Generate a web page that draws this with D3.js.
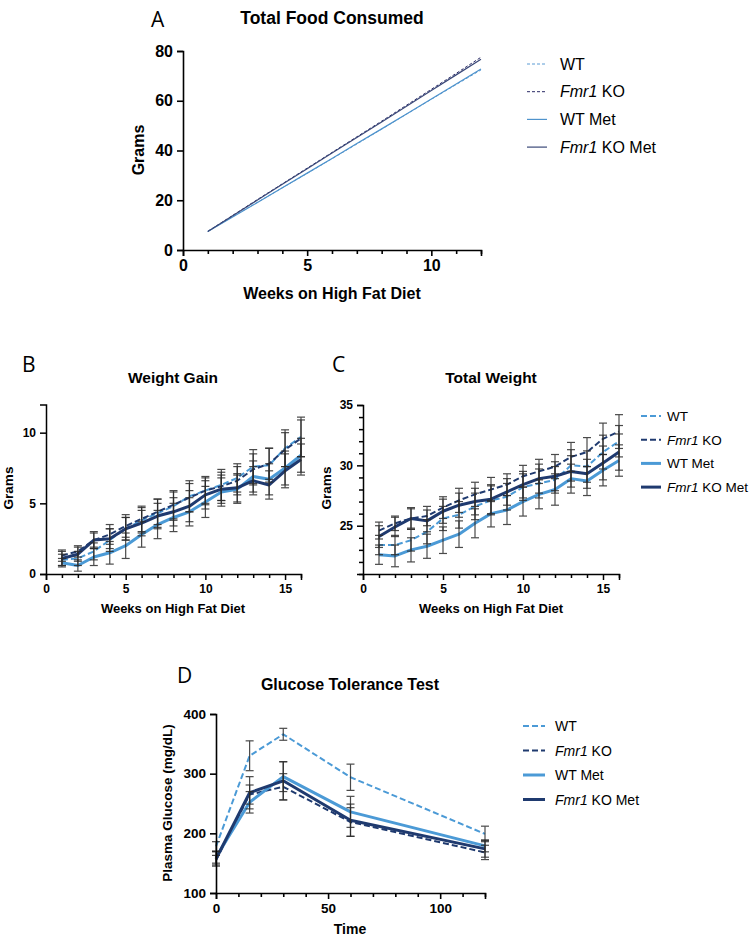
<!DOCTYPE html>
<html>
<head>
<meta charset="utf-8">
<script src="https://cdn.jsdelivr.net/npm/d3@7"></script>
<style>
  body { margin:0; background:#fff; }
  svg text { font-family: "Liberation Sans", Arial, sans-serif; fill:#000; }
</style>
</head>
<body>
<svg id="fig" width="750" height="937"></svg>
<script>
// ---- data ----
const seriesNames = ['WT', 'Fmr1 KO', 'WT Met', 'Fmr1 KO Met'];

// A: cumulative food (g), weeks 1-12
const weeksA = [1,2,3,4,5,6,7,8,9,10,11,12];
const foodWT    = [7.5, 13.4, 19.2, 25.0, 30.8, 36.7, 42.6, 48.6, 54.6, 60.6, 66.5, 72.4];
const foodKO    = [7.5, 13.9, 20.3, 26.6, 32.9, 39.2, 45.5, 51.8, 58.2, 64.6, 71.0, 77.5];
const foodWTMet = [7.4, 13.3, 19.1, 25.0, 30.9, 36.8, 42.8, 48.7, 54.7, 60.7, 66.7, 72.8];
const foodKOMet = [7.4, 13.8, 20.1, 26.4, 32.7, 39.0, 45.2, 51.5, 57.8, 64.1, 70.4, 76.7];

// B: weight gain (g), weeks 1-16
const weeksB = [1,2,3,4,5,6,7,8,9,10,11,12,13,14,15,16];
const gainWT      = [1.0, 1.1, 1.6, 2.4, 3.2, 3.8, 4.3, 4.8, 5.5, 5.9, 6.3, 6.8, 7.6, 7.7, 8.9, 9.7];
const gainKO      = [1.3, 1.6, 2.4, 2.8, 3.4, 3.9, 4.4, 4.9, 5.4, 5.9, 6.2, 6.6, 7.4, 7.8, 8.8, 9.6];
const gainWTMet   = [0.8, 0.6, 1.2, 1.5, 2.0, 2.8, 3.5, 4.0, 4.4, 5.1, 5.8, 6.0, 6.9, 6.7, 7.5, 8.4];
const gainKOMet   = [1.1, 1.4, 2.4, 2.5, 3.2, 3.6, 4.1, 4.4, 4.8, 5.6, 6.0, 6.1, 6.6, 6.3, 7.3, 8.1];
const gainWTErr   = [0.4, 0.5, 0.6, 0.8, 0.8, 0.9, 1.0, 1.0, 1.1, 1.0, 1.1, 1.0, 1.2, 1.2, 1.3, 1.4];
const gainKOErr   = [0.4, 0.4, 0.5, 0.7, 0.8, 0.9, 0.9, 1.0, 1.0, 0.9, 1.0, 1.0, 1.1, 1.1, 1.2, 1.3];
const gainWTMetErr= [0.3, 0.4, 0.6, 0.8, 0.9, 0.9, 1.0, 1.0, 1.0, 1.1, 1.0, 1.0, 1.1, 1.1, 1.2, 1.2];
const gainKOMetErr= [0.5, 0.5, 0.6, 0.7, 0.8, 0.9, 0.9, 1.0, 1.1, 1.0, 1.0, 1.0, 1.0, 1.0, 1.2, 1.1];

// C: total weight (g), weeks 1-16
const weightWT    = [23.4, 23.4, 23.8, 24.5, 25.6, 25.9, 26.6, 27.1, 27.4, 28.2, 28.5, 28.8, 30.0, 29.9, 31.1, 32.0];
const weightKO    = [24.6, 25.2, 25.6, 25.8, 26.5, 27.1, 27.6, 28.0, 28.4, 29.1, 29.5, 29.9, 30.7, 31.1, 32.2, 32.8];
const weightWTMet = [22.6, 22.5, 23.0, 23.3, 23.8, 24.3, 25.2, 26.0, 26.3, 27.0, 27.6, 28.0, 28.9, 28.7, 29.6, 30.4];
const weightKOMet = [24.1, 24.9, 25.6, 25.4, 26.2, 26.7, 27.0, 27.2, 27.8, 28.4, 28.9, 29.1, 29.5, 29.3, 30.2, 31.1];
const weightWTErr    = [0.8, 0.8, 0.9, 1.0, 1.0, 1.1, 1.1, 1.2, 1.1, 1.1, 1.2, 1.1, 1.3, 1.3, 1.4, 1.3];
const weightKOErr    = [0.7, 0.6, 0.8, 0.8, 0.9, 1.0, 1.0, 1.0, 0.9, 0.9, 1.0, 1.0, 1.2, 1.2, 1.3, 1.4];
const weightWTMetErr = [0.8, 0.9, 1.0, 1.0, 1.1, 1.1, 1.2, 1.1, 1.2, 1.2, 1.2, 1.3, 1.2, 1.2, 1.3, 1.3];
const weightKOMetErr = [0.9, 0.8, 0.9, 0.9, 1.0, 1.0, 1.1, 1.2, 1.1, 1.1, 1.2, 1.2, 1.3, 1.2, 1.4, 1.5];

// D: glucose tolerance (mg/dL)
const timesD = [0, 15, 30, 60, 120];
const gttWT      = [178, 330, 366, 294, 199];
const gttKO      = [155, 265, 278, 219, 168];
const gttWTMet   = [160, 252, 295, 236, 179];
const gttKOMet   = [157, 268, 288, 222, 174];
const gttWTErr   = [8, 25, 10, 22, 13];
const gttKOErr   = [8, 16, 22, 24, 12];
const gttWTMetErr= [10, 18, 25, 26, 10];
const gttKOMetErr= [12, 27, 32, 27, 14];

// ---- styles ----
const light = '#4b9ad6', dark = '#1f3a6f';
const styleThin = [
  {color:'#5a9bd4', dash:'3,2', w:1},
  {color:'#2a2a66', dash:'3,2', w:1},
  {color:'#4f93cc', dash:null, w:1.2},
  {color:'#3a4878', dash:null, w:1.2}
];
const styleBold = [
  {color:light, dash:'6,3', w:2},
  {color:dark,  dash:'6,3', w:2},
  {color:light, dash:null,  w:3},
  {color:dark,  dash:null,  w:3}
];

const svg = d3.select('#fig');

function drawAxes(g, x, y, o){
  const fs = o.tickFont;
  g.append('g').attr('transform',`translate(0,${y.range()[0]})`)
    .call(d3.axisBottom(x).tickValues(o.xMajor).tickSize(6).tickPadding(4).tickFormat(d3.format('d')));
  const xm = g.append('g').attr('transform',`translate(0,${y.range()[0]})`)
    .call(d3.axisBottom(x).tickValues(o.xMinor).tickSize(4).tickFormat(''));
  xm.select('.domain').remove();
  g.append('g').attr('transform',`translate(${x.range()[0]},0)`)
    .call(d3.axisLeft(y).tickValues(o.yMajor).tickSize(6).tickPadding(4).tickFormat(d3.format('d')));
  if (o.yMinor){
    const ym = g.append('g').attr('transform',`translate(${x.range()[0]},0)`)
      .call(d3.axisLeft(y).tickValues(o.yMinor).tickSize(4).tickFormat(''));
    ym.select('.domain').remove();
  }
  g.selectAll('.domain').attr('stroke','#000').attr('stroke-width',o.axisW);
  g.selectAll('.tick line').attr('stroke','#000').attr('stroke-width',o.axisW);
  g.selectAll('.tick text').attr('font-size',fs).attr('font-weight','bold')
    .attr('font-family','"Liberation Sans", Arial, sans-serif').attr('fill','#000');
}

function drawSeries(g, x, y, xs, sets, styles, errs){
  const line = d3.line().x((d,i)=>x(xs[i])).y(d=>y(d));
  sets.forEach((vals,k)=>{
    const s = styles[k];
    g.append('path').datum(vals).attr('d',line).attr('fill','none')
      .attr('stroke',s.color).attr('stroke-width',s.w)
      .attr('stroke-dasharray',s.dash).attr('stroke-linejoin','round');
  });
  if (!errs) return;
  errs.forEach((e,k)=>{
    const vals = sets[k];
    const eg = g.append('g').attr('stroke','#2b2b2b').attr('stroke-width',1.2).attr('opacity',0.85);
    vals.forEach((v,i)=>{
      const cx = x(xs[i]);
      eg.append('line').attr('x1',cx).attr('x2',cx).attr('y1',y(v-e[i])).attr('y2',y(v+e[i]));
      eg.append('line').attr('x1',cx-4).attr('x2',cx+4).attr('y1',y(v+e[i])).attr('y2',y(v+e[i]));
      eg.append('line').attr('x1',cx-4).attr('x2',cx+4).attr('y1',y(v-e[i])).attr('y2',y(v-e[i]));
    });
  });
}

function legend(x0, y0, dy, len, gap, styles, fs){
  seriesNames.forEach((name,k)=>{
    const s = styles[k];
    const yy = y0 + k*dy;
    svg.append('line').attr('x1',x0).attr('x2',x0+len).attr('y1',yy).attr('y2',yy)
      .attr('stroke',s.color).attr('stroke-width',s.w).attr('stroke-dasharray',s.dash);
    const t = svg.append('text').attr('x',x0+len+gap).attr('y',yy).attr('dy','0.36em').attr('font-size',fs);
    if (name.startsWith('Fmr1')){
      t.append('tspan').attr('font-style','italic').text('Fmr1');
      t.append('tspan').text(name.slice(4));
    } else t.text(name);
  });
}

function letter(txt, x, y, fs){
  svg.append('text').attr('x',x).attr('y',y).attr('font-size',fs)
    .style('font-family','"Open Sans", "DejaVu Sans", sans-serif').attr('font-weight',400).text(txt);
}
function label(txt, x, y, fs, rot){
  const t = svg.append('text').attr('x',x).attr('y',y).attr('font-size',fs)
    .attr('font-weight','bold').attr('text-anchor','middle').text(txt);
  if (rot) t.attr('transform',`rotate(-90,${x},${y})`);
  return t;
}

// ---- Panel A ----
{
  const x = d3.scaleLinear().domain([0,12]).range([183,481]);
  const y = d3.scaleLinear().domain([0,80]).range([250,51]);
  const g = svg.append('g');
  drawSeries(g, x, y, weeksA, [foodWT, foodKO, foodWTMet, foodKOMet], styleThin);
  drawAxes(g, x, y, {xMajor:[0,5,10], xMinor:[1,2,3,4,6,7,8,9,11,12], yMajor:[0,20,40,60,80], tickFont:16, axisW:1.6});
  letter('A', 151, 27, 21);
  label('Total Food Consumed', 332, 24, 17.5);
  label('Grams', 144, 150, 16, true);
  label('Weeks on High Fat Diet', 332, 299, 16);
  legend(527, 64, 27.7, 20, 13, styleThin, 16);
}

// ---- Panel B ----
{
  const x = d3.scaleLinear().domain([0,16]).range([46,301]);
  const y = d3.scaleLinear().domain([0,12]).range([574,404.4]);
  const g = svg.append('g');
  drawSeries(g, x, y, weeksB, [gainWT, gainKO, gainWTMet, gainKOMet], styleBold,
    [gainWTErr, gainKOErr, gainWTMetErr, gainKOMetErr]);
  drawAxes(g, x, y, {xMajor:[0,5,10,15], xMinor:[1,2,3,4,6,7,8,9,11,12,13,14,16], yMajor:[0,5,10], tickFont:12, axisW:1.5});
  letter('B', 22, 372, 21);
  label('Weight Gain', 173, 383, 15.5);
  label('Grams', 13, 488, 13.5, true);
  label('Weeks on High Fat Diet', 173, 613, 13);
}

// ---- Panel C ----
{
  const x = d3.scaleLinear().domain([0,16]).range([363,619]);
  const y = d3.scaleLinear().domain([21,35]).range([574,405]);
  const g = svg.append('g');
  drawSeries(g, x, y, weeksB, [weightWT, weightKO, weightWTMet, weightKOMet], styleBold,
    [weightWTErr, weightKOErr, weightWTMetErr, weightKOMetErr]);
  drawAxes(g, x, y, {xMajor:[0,5,10,15], xMinor:[1,2,3,4,6,7,8,9,11,12,13,14,16], yMajor:[25,30,35],
    yMinor:[21,22,23,24,26,27,28,29,31,32,33,34], tickFont:12, axisW:1.5});
  letter('C', 332, 372, 21);
  label('Total Weight', 491, 383, 15.5);
  label('Grams', 331, 488, 13.5, true);
  label('Weeks on High Fat Diet', 491, 613, 13);
  legend(641, 416, 23.7, 20, 6, styleBold, 13.5);
}

// ---- Panel D ----
{
  const x = d3.scaleLinear().domain([0,120]).range([216,485]);
  const y = d3.scaleLinear().domain([100,400]).range([893,714]);
  const g = svg.append('g');
  drawSeries(g, x, y, timesD, [gttWT, gttKO, gttWTMet, gttKOMet], styleBold,
    [gttWTErr, gttKOErr, gttWTMetErr, gttKOMetErr]);
  drawAxes(g, x, y, {xMajor:[0,50,100], xMinor:[10,20,30,40,60,70,80,90,110,120], yMajor:[100,200,300,400], tickFont:13.5, axisW:1.6});
  letter('D', 177, 683, 21);
  label('Glucose Tolerance Test', 350, 690, 16);
  label('Plasma Glucose (mg/dL)', 172, 803, 13.5, true);
  label('Time', 350, 934, 14);
  legend(523, 726, 24.5, 22, 10, styleBold, 14);
}
</script>
</body>
</html>
